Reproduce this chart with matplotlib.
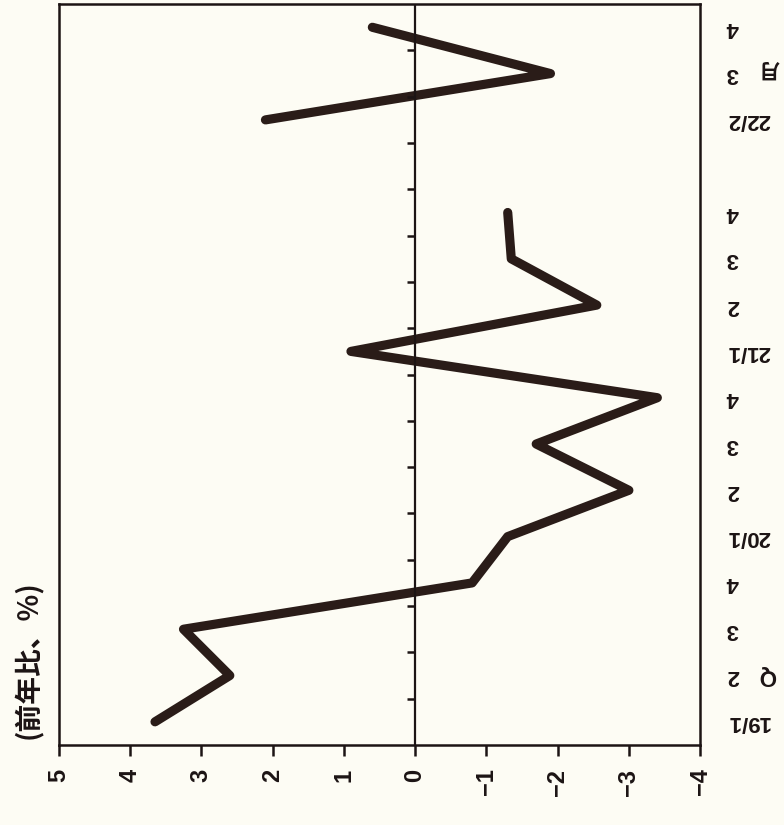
import numpy as np
import matplotlib
matplotlib.use("Agg")
import matplotlib.pyplot as plt
import matplotlib.transforms as mtransforms

# year-on-year change, %  (19/1 .. 21/4 quarterly, then 22/2 .. 22/4 monthly)
periods = ["19/1", "2", "3", "4", "20/1", "2", "3", "4",
           "21/1", "2", "3", "4", "", "22/2", "3", "4"]
values = [3.65, 2.6, 3.25, -0.8, -1.3, -3.0, -1.7, -3.4,
          0.9, -2.55, -1.35, -1.3, np.nan, 2.1, -1.9, 0.6]
value_ticks = [5, 4, 3, 2, 1, 0, -1, -2, -3, -4]

plt.rcParams['font.family'] = ['Liberation Sans', 'Noto Sans CJK JP', 'DejaVu Sans']
paper = "#fdfcf4"
ink = "#1c1414"

fig = plt.figure(figsize=(7.84, 8.25), dpi=100)
fig.patch.set_facecolor(paper)
ax = fig.add_axes([0.075, 0.097, 0.818, 0.898])
ax.set_facecolor(paper)

pos = np.arange(len(periods))

# the chart is printed on its side: values run along x (5 on the left), time runs upward
ax.plot(values, pos, color="#2a1c18", lw=6.6, solid_capstyle="round", solid_joinstyle="round")
ax.axvline(0, color=ink, lw=1.6)

# little ticks on the zero line between periods
bounds = pos[:-1] + 0.5
ax.hlines(bounds, 0, 0.12, color=ink, lw=1.8)

ax.set_xlim(5, -4)
ax.set_ylim(-0.5, len(periods) - 0.5)

for s in ax.spines.values():
    s.set_linewidth(1.8)
    s.set_color(ink)

ax.set_xticks(value_ticks)
ax.set_xticklabels([str(v).replace("-", "\u2212") for v in value_ticks],
                   rotation=90, fontsize=17, fontweight="bold")
ax.tick_params(axis="x", direction="out", length=8, width=1.8, pad=9, colors=ink)

ax.set_yticks(pos)
ax.set_yticklabels(periods, rotation=180, fontsize=16, fontweight="bold")
ax.tick_params(axis="y", left=False, labelleft=False, right=False, labelright=True,
               length=0, pad=19, colors=ink)
for lab in ax.get_yticklabels():
    lab.set_ha("left")
    lab.set_va("center")

# unit markers next to the period labels
trans = mtransforms.blended_transform_factory(ax.transAxes, ax.transData)
ax.text(1.105, 1, "Q", transform=trans, rotation=180, fontsize=16, fontweight="bold",
        ha="center", va="center", color=ink)
ax.text(1.108, 14.1, "月", transform=trans, rotation=180, fontsize=15, fontweight="bold",
        ha="center", va="center", color=ink, family=['Noto Sans CJK JP', 'DejaVu Sans'])

fig.text(0.036, 1 - 660 / 825, "(前年比、%)", rotation=90, fontsize=20, fontweight="bold",
         ha="center", va="center", color=ink, family=['Noto Sans CJK JP', 'DejaVu Sans'])

plt.savefig("out.png", dpi=100, facecolor=paper)
